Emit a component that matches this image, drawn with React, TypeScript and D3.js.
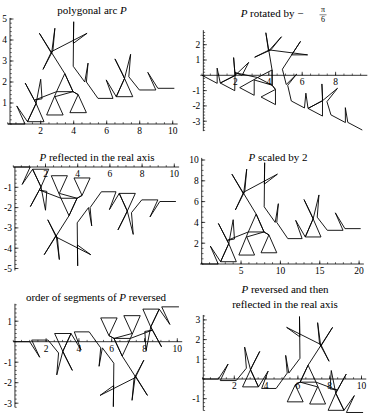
import * as d3 from 'd3'

// vertices of the polygonal arc P
const P: [number, number][] = [
  [0, 0], [1.05, 0], [0.55, 0.86], [1.2, 0.11],
  [2.2, 0.11], [1.72, 0.98], [1.06, 1.95], [1.6, 1.16], [1.72, 0.98], [1.2, 0.11],
  [1.72, 0.98], [2.0, 2.13], [2.08, 1.2], [1.64, 1.14],
  [2.96, 1.54], [3.96, 1.54], [3.46, 2.4], [2.96, 1.54],
  [2.36, 0.43], [3.36, 0.43], [2.86, 1.3],
  [3.96, 1.54], [4.27, 1.4], [3.77, 0.54], [4.77, 0.54], [4.27, 1.4], [3.96, 1.54],
  [3.46, 2.4], [1.92, 4.32], [2.66, 3.36], [2.86, 4.56], [2.74, 3.5],
  [2.14, 2.6], [2.66, 3.45], [4.81, 4.32], [3.98, 3.84], [4.0, 4.87], [3.97, 2.75],
  [4.67, 2.0], [4.87, 2.9], [4.77, 2.0], [5.47, 1.22], [6.38, 1.22], [5.97, 2.1],
  [6.58, 1.3], [7.58, 1.3], [7.08, 2.17], [6.5, 3.1], [6.95, 2.4], [7.08, 2.17],
  [6.58, 1.3], [7.08, 2.17], [7.45, 3.32], [7.34, 2.25], [7.98, 1.62], [8.98, 1.62],
  [8.49, 2.46], [9.1, 1.7], [10.1, 1.7],
]

const titles = [
  'polygonal arc',
  'rotated by',
  'reflected in the real axis',
  'scaled by 2',
  'order of segments of',
  'reversed and then',
]

const xMajor = [
  [2, 4, 6, 8, 10],
  [2, 4, 6, 8],
  [2, 4, 6, 8, 10],
  [5, 10, 15, 20],
  [2, 4, 6, 8, 10],
  [2, 4, 6, 8, 10],
]
const yMajor = [
  [1, 2, 3, 4, 5],
  [-3, -2, -1, 1, 2],
  [-5, -4, -3, -2, -1],
  [2, 4, 6, 8, 10],
  [-3, -2, -1, 1],
  [-1, 1, 2, 3],
]
const xMinorStep = [0.5, 0.5, 0.5, 1, 0.5, 0.5]
const yMinorStep = [0.2, 0.2, 0.2, 0.5, 0.2, 0.2]

const end = P[P.length - 1]
const a = -Math.PI / 6
const transforms: ((p: [number, number]) => [number, number])[] = [
  ([x, y]) => [x, y],
  ([x, y]) => [x * Math.cos(a) - y * Math.sin(a), x * Math.sin(a) + y * Math.cos(a)],
  ([x, y]) => [x, -y],
  ([x, y]) => [2 * x, 2 * y],
  ([x, y]) => [end[0] - x, end[1] - y],
  ([x, y]) => [end[0] - x, y - end[1]],
]

// layout of each panel in pixels: x0/unit, y0/unit, axis extents
const layout = [
  { x0: 7.7, xu: 16.5, y0: 124, yu: 21, xa: [0, 10.3], ya: [0, 5.05], yAxisX: 0.14 },
  { x0: 202, xu: 16.7, y0: 75.3, yu: 15.3, xa: [-0.1, 9.9], ya: [-3.65, 2.95], yAxisX: 0.08 },
  { x0: 13.3, xu: 16.1, y0: 167, yu: 20.3, xa: [0, 10.3], ya: [-5.1, 0], yAxisX: 0.1 },
  { x0: 201.7, xu: 7.87, y0: 264, yu: 10.4, xa: [-0.2, 20.6], ya: [0, 10.2], yAxisX: 0 },
  { x0: 13.3, xu: 16.4, y0: 341.7, yu: 20.5, xa: [0, 10.3], ya: [-3.2, 1.85], yAxisX: 0.1 },
  { x0: 202.5, xu: 15.9, y0: 379, yu: 19.7, xa: [0, 10.3], ya: [-1.6, 3.25], yAxisX: 0.05 },
]

const serif = '"Liberation Serif", "Times New Roman", serif'

function Panel({ i }: { i: number }) {
  const L = layout[i]
  const x = d3.scaleLinear().domain([0, 1]).range([L.x0, L.x0 + L.xu])
  const y = d3.scaleLinear().domain([0, 1]).range([L.y0, L.y0 - L.yu])
  const pts = P.map(transforms[i])
  const line = d3.line<[number, number]>().x((d) => x(d[0])).y((d) => y(d[1]))
  const ax = x(L.yAxisX)
  const xMin = d3.range(Math.ceil(L.xa[0] / xMinorStep[i]) * xMinorStep[i], L.xa[1], xMinorStep[i])
  const yMin = d3.range(Math.ceil(L.ya[0] / yMinorStep[i]) * yMinorStep[i], L.ya[1], yMinorStep[i])
  return (
    <g>
      <line x1={x(L.xa[0])} x2={x(L.xa[1])} y1={y(0)} y2={y(0)} stroke="#000" strokeWidth={0.8} />
      <line x1={ax} x2={ax} y1={y(L.ya[0])} y2={y(L.ya[1])} stroke="#000" strokeWidth={0.8} />
      {xMin.map((v) => (
        <line key={'xm' + v} x1={x(v)} x2={x(v)} y1={y(0)} y2={y(0) - 1.8} stroke="#000" strokeWidth={0.6} />
      ))}
      {yMin.map((v) => (
        <line key={'ym' + v} x1={ax} x2={ax + 1.8} y1={y(v)} y2={y(v)} stroke="#000" strokeWidth={0.6} />
      ))}
      {xMajor[i].map((v) => (
        <g key={'xM' + v}>
          <line x1={x(v)} x2={x(v)} y1={y(0)} y2={y(0) - 3.5} stroke="#000" strokeWidth={0.7} />
          <text x={x(v)} y={y(0) + 10} textAnchor="middle" fontSize={9.5} fontFamily={serif}>{v}</text>
        </g>
      ))}
      {yMajor[i].map((v) => (
        <g key={'yM' + v}>
          <line x1={ax} x2={ax + 3.5} y1={y(v)} y2={y(v)} stroke="#000" strokeWidth={0.7} />
          <text x={ax - 3} y={y(v) + 3.3} textAnchor="end" fontSize={9.5} fontFamily={serif}>{v < 0 ? '-' + -v : v}</text>
        </g>
      ))}
      <path d={line(pts) || ''} fill="none" stroke="#000" strokeWidth={0.9} strokeLinejoin="miter" strokeMiterlimit={3} />
    </g>
  )
}

const It = ({ children }: { children: string }) => <tspan fontStyle="italic">{children}</tspan>

export default function App() {
  return (
    <svg width={368} height={420} style={{ position: 'absolute', left: 0, top: 0, background: '#fff' }}>
      <rect width={368} height={420} fill="#fff" />
      <g fontFamily={serif} fontSize={11}>
        <text x={92} y={14} textAnchor="middle">{titles[0]} <It>P</It></text>
        <text x={272} y={17} textAnchor="middle"><It>P</It> {titles[1]} −</text>
        <text x={323} y={12} textAnchor="middle" fontSize={8}>π</text>
        <line x1={319.5} x2={326.5} y1={14.8} y2={14.8} stroke="#000" strokeWidth={0.5} />
        <text x={323} y={21.5} textAnchor="middle" fontSize={8}>6</text>
        <text x={97} y={160.5} textAnchor="middle"><It>P</It> {titles[2]}</text>
        <text x={278} y={160.5} textAnchor="middle"><It>P</It> {titles[3]}</text>
        <text x={96} y={300.5} textAnchor="middle">{titles[4]} <It>P</It> reversed</text>
        <text x={285} y={293} textAnchor="middle"><It>P</It> {titles[5]}</text>
        <text x={285} y={307.5} textAnchor="middle">reflected in the real axis</text>
      </g>
      {[0, 1, 2, 3, 4, 5].map((i) => <Panel key={i} i={i} />)}
    </svg>
  )
}
